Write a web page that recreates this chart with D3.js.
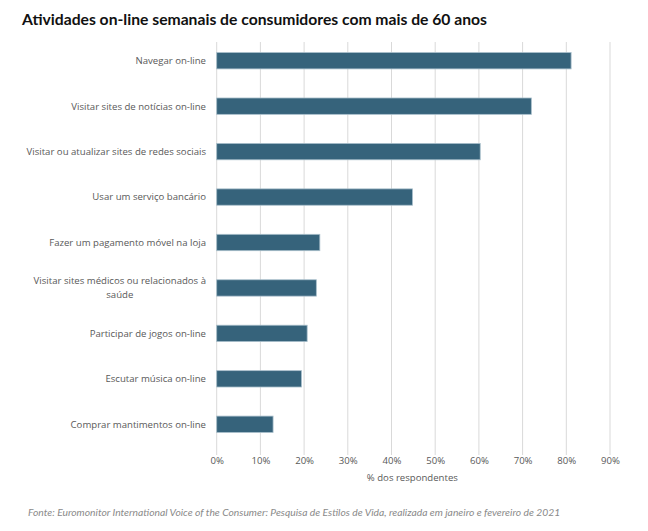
<!DOCTYPE html>
<html><head><meta charset="utf-8">
<script src="https://cdn.jsdelivr.net/npm/d3@7"></script>
<style>
body{margin:0;background:#fff;}
</style></head>
<body>
<svg id="chart" width="648" height="531"></svg>
<script>
const categories = [
  "Navegar on-line",
  "Visitar sites de notícias on-line",
  "Visitar ou atualizar sites de redes sociais",
  "Usar um serviço bancário",
  "Fazer um pagamento móvel na loja",
  "Visitar sites médicos ou relacionados à|saúde",
  "Participar de jogos on-line",
  "Escutar música on-line",
  "Comprar mantimentos on-line"
];
const values = [81.1, 72.0, 60.3, 44.8, 23.6, 22.8, 20.7, 19.4, 12.9];
const tickValues = [0, 10, 20, 30, 40, 50, 60, 70, 80, 90];
const title = "Atividades on-line semanais de consumidores com mais de 60 anos";
const axisTitle = "% dos respondentes";
const source = "Fonte: Euromonitor International Voice of the Consumer: Pesquisa de Estilos de Vida, realizada em janeiro e fevereiro de 2021";

const svg = d3.select("#chart");
const x = d3.scaleLinear().domain([0, 90]).range([216.7, 610]);
const y = d3.scaleBand().domain(categories).range([38, 447]).paddingInner(0.64).paddingOuter(0.32);

svg.append("text").attr("x", 22).attr("y", 25)
  .attr("font-family", "Lato, 'Open Sans', sans-serif").attr("font-weight", 700)
  .attr("font-size", 15.7).attr("fill", "#111").text(title);

// gridlines
svg.append("g").selectAll("line").data(tickValues).join("line")
  .attr("x1", d => x(d)).attr("x2", d => x(d))
  .attr("y1", 42).attr("y2", 455)
  .attr("stroke", "#d9d9d9").attr("stroke-width", 1);

// bars
svg.append("g").selectAll("rect").data(values).join("rect")
  .attr("x", x(0))
  .attr("y", (d, i) => y(categories[i]))
  .attr("width", d => x(d) - x(0))
  .attr("height", y.bandwidth())
  .attr("fill", "#36637b")
  .attr("stroke", "#a9bfcb").attr("stroke-width", 0.8);

// category labels
const lab = svg.append("g").attr("font-family", "'Open Sans', sans-serif")
  .attr("font-size", 9.6).attr("fill", "#595959");
categories.forEach(c => {
  const lines = c.split("|");
  const cy = y(c) + y.bandwidth() / 2;
  if (lines.length === 1) {
    lab.append("text").attr("x", 206).attr("y", cy).attr("dy", "0.35em")
      .attr("text-anchor", "end").text(lines[0]);
  } else {
    const t1 = lab.append("text").attr("x", 206).attr("y", cy - 7).attr("dy", "0.35em")
      .attr("text-anchor", "end").text(lines[0]);
    const w = t1.node().getComputedTextLength();
    lab.append("text").attr("x", 206 - w / 2).attr("y", cy + 7).attr("dy", "0.35em")
      .attr("text-anchor", "middle").text(lines[1]);
  }
});

// x axis tick labels
const axis = d3.axisBottom(x).tickValues(tickValues).tickFormat(d => d + "%").tickSize(0).tickPadding(0);
const ag = svg.append("g").attr("transform", "translate(0,457)").call(axis);
ag.select(".domain").remove();
ag.selectAll("text").attr("font-family", "'Open Sans', sans-serif").attr("font-size", 9.6).attr("fill", "#595959");

svg.append("text").attr("x", (x(0) + x(90)) / 2 - 1).attr("y", 481)
  .attr("text-anchor", "middle")
  .attr("font-family", "'Open Sans', sans-serif").attr("font-size", 9.6).attr("fill", "#595959")
  .text(axisTitle);

svg.append("text").attr("x", 28).attr("y", 516)
  .attr("font-family", "Lato, 'Open Sans', sans-serif").attr("font-style", "italic")
  .attr("font-size", 10.3).attr("fill", "#8a8a8a").text(source);
</script>
</body></html>
